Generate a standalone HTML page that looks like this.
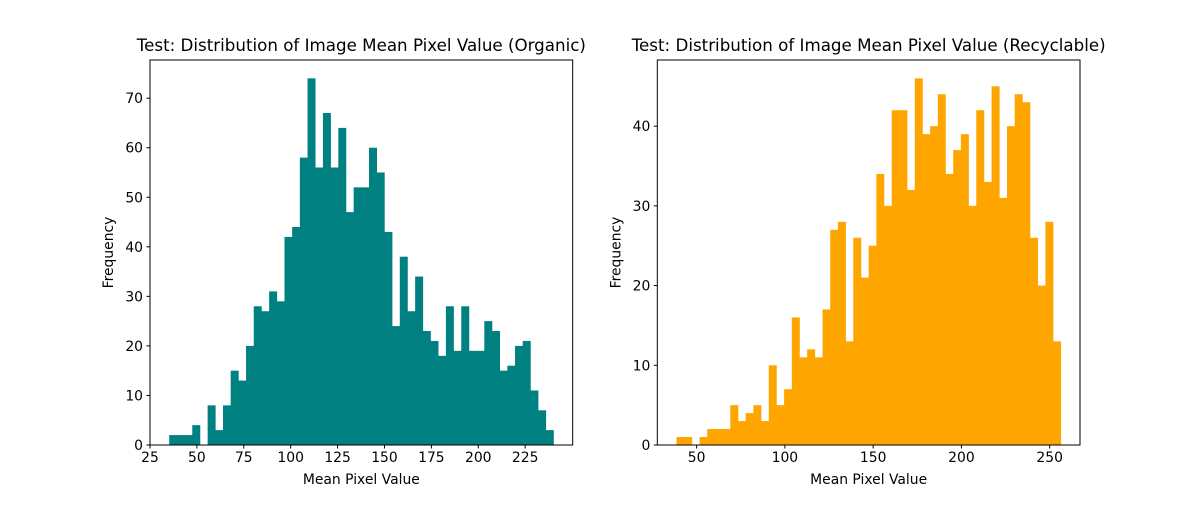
<!DOCTYPE html>
<html><head><meta charset="utf-8"><style>
body{margin:0;background:#fff}
svg text{font-family:"DejaVu Sans","Liberation Sans",sans-serif;fill:#000}
</style></head><body>
<svg id="chart" width="1200" height="500" xmlns="http://www.w3.org/2000/svg"></svg>
<script>
const organicCounts=[2,2,2,4,0,8,3,8,15,13,20,28,27,31,29,42,44,58,74,56,67,56,64,47,52,52,60,55,43,24,38,27,34,23,21,18,28,19,28,19,19,25,23,15,16,20,21,11,7,3];
const organicRange=[35.24,240.1];
const recycCounts=[1,1,0,1,2,2,2,5,3,4,5,3,10,5,7,16,11,12,11,17,27,28,13,26,21,25,34,30,42,42,32,46,39,40,44,34,37,39,30,42,33,45,31,40,44,43,26,20,28,13];
const recycRange=[38.6,256.3];
const organicXTicks=[25,50,75,100,125,150,175,200,225];
const organicYTicks=[0,10,20,30,40,50,60,70];
const recycXTicks=[50,100,150,200,250];
const recycYTicks=[0,10,20,30,40];

const NS="http://www.w3.org/2000/svg";
const svg=document.getElementById('chart');
function mk(tag,attrs,parent){const e=document.createElementNS(NS,tag);for(const k in attrs)e.setAttribute(k,attrs[k]);(parent||svg).appendChild(e);return e;}

function panel(opts){
  const {x0,x1,y0,y1,counts,range,xTicks,yTicks,color,title,key}=opts;
  const g=mk('g',{});
  
  
  const span=range[1]-range[0];
  const xmin=range[0]-0.05*span, xmax=range[1]+0.05*span;
  const ymax=Math.max(...counts)*1.05;
  const sx=v=>x0+(v-xmin)/(xmax-xmin)*(x1-x0);
  const sy=v=>y1-v/ymax*(y1-y0);
  const bw=span/counts.length;
  counts.forEach((c,i)=>{
    if(c<=0)return;
    const a=sx(range[0]+i*bw), b=sx(range[0]+(i+1)*bw);
    const r=mk('rect',{x:a,y:sy(c),width:b-a+0.3,height:y1-sy(c),fill:color},g);
    
    
  });
  const frame=mk('rect',{x:x0,y:y0,width:x1-x0,height:y1-y0,fill:'none',stroke:'#000','stroke-width':1},g);
  
  
  xTicks.forEach(t=>{
    const x=sx(t);
    mk('line',{x1:x,x2:x,y1:y1,y2:y1+3.5,stroke:'#000'},g);
    const tx=mk('text',{x:x,y:y1+17,'font-size':13.9,'text-anchor':'middle'},g);
    tx.textContent=t;
    
    
  });
  yTicks.forEach(t=>{
    const y=sy(t);
    mk('line',{x1:x0-3.5,x2:x0,y1:y,y2:y,stroke:'#000'},g);
    const tx=mk('text',{x:x0-7,y:y+5,'font-size':13.9,'text-anchor':'end'},g);
    tx.textContent=t;
    
    
  });
  const tt=mk('text',{x:(x0+x1)/2,y:y0-9,'font-size':16.7,'text-anchor':'middle'},g);
  tt.textContent=title;
  
  
  const xl=mk('text',{x:(x0+x1)/2,y:y1+39,'font-size':13.9,'text-anchor':'middle'},g);
  xl.textContent='Mean Pixel Value';
  
  
  const yl=mk('text',{x:0,y:0,'font-size':13.9,'text-anchor':'middle',transform:`translate(${x0-37},${(y0+y1)/2}) rotate(-90)`},g);
  yl.textContent='Frequency';
  
  
}
panel({x0:150,x1:572.7,y0:60,y1:445,counts:organicCounts,range:organicRange,xTicks:organicXTicks,yTicks:organicYTicks,color:'#008080',title:'Test: Distribution of Image Mean Pixel Value (Organic)',key:'organic'});
panel({x0:657.3,x1:1080,y0:60,y1:445,counts:recycCounts,range:recycRange,xTicks:recycXTicks,yTicks:recycYTicks,color:'#ffa500',title:'Test: Distribution of Image Mean Pixel Value (Recyclable)',key:'recyclable'});
</script>
</body></html>
